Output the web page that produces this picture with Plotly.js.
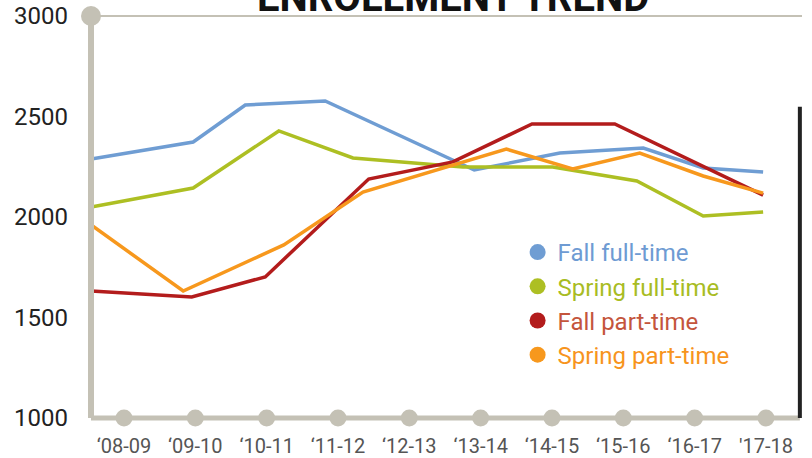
<!DOCTYPE html>
<html>
<head>
<meta charset="utf-8">
<script src="https://cdn.plot.ly/plotly-3.0.1.min.js"></script>
<style>html,body{margin:0;padding:0;background:#fff;}#chart{width:812px;height:458px;}</style>
</head>
<body>
<div id="chart"></div>
<script>
// Category labels (school years)
const categories = ['\u201808-09', '\u201809-10', '\u201810-11', '\u201811-12', '\u201812-13', '\u201813-14', '\u201814-15', '\u201815-16', '\u201816-17', "'17-18"];
const yTickValues = [1000, 1500, 2000, 2500, 3000];

// Series vertices (x in category-index units)
const fallFullX = [-0.46, 0.97, 1.70, 2.82, 4.91, 6.11, 7.28, 8.12, 8.96];
const fallFullY = [2289, 2373, 2557, 2577, 2234, 2318, 2343, 2244, 2224];

const springFullX = [-0.46, 0.97, 2.17, 3.21, 4.75, 6.01, 7.19, 8.12, 8.96];
const springFullY = [2050, 2144, 2428, 2294, 2249, 2249, 2179, 2005, 2025];

const fallPartX = [-0.46, 0.95, 1.98, 3.43, 4.61, 5.72, 6.88, 8.96];
const fallPartY = [1632, 1602, 1702, 2189, 2274, 2463, 2463, 2109];

const springPartX = [-0.46, 0.83, 2.24, 3.35, 5.36, 6.29, 7.23, 8.12, 8.96];
const springPartY = [1960, 1632, 1861, 2124, 2338, 2239, 2318, 2204, 2119];

const seriesNames = ['Fall full-time', 'Spring full-time', 'Fall part-time', 'Spring part-time'];
const lineColors = ['#6f9dd3', '#adbf23', '#b31c1c', '#f7981d'];
const textColors = ['#6e9bd3', '#a8bc23', '#c4553c', '#f7941d'];
const gray = '#c4c1b5';

const xs = [fallFullX, springFullX, fallPartX, springPartX];
const ys = [fallFullY, springFullY, fallPartY, springPartY];

const catIdx = categories.map((_, i) => i);

const traces = [];
// axis dots at each category
traces.push({
  x: catIdx, y: catIdx.map(() => yTickValues[0]),
  mode: 'markers', type: 'scatter',
  marker: {size: 17, color: gray},
  cliponaxis: false, showlegend: false, hoverinfo: 'skip'
});
for (let k = 0; k < 4; k++) {
  traces.push({
    x: xs[k], y: ys[k], type: 'scatter', mode: 'lines',
    line: {color: lineColors[k], width: 3.5},
    name: seriesNames[k], showlegend: false, cliponaxis: false
  });
}
for (let k = 0; k < 4; k++) {
  traces.push({
    x: [null], y: [null], type: 'scatter', mode: 'markers',
    marker: {color: lineColors[k], size: 16},
    name: '<span style="color:' + textColors[k] + '">' + seriesNames[k] + '</span>',
    legendgroup: 'g' + k, showlegend: true
  });
}

const layout = {
  width: 812, height: 458,
  margin: {l: 91, r: 10, t: 16, b: 40},
  paper_bgcolor: '#fff', plot_bgcolor: '#fff',
  font: {family: 'Roboto, sans-serif'},
  showlegend: true,
  legend: {
    x: 0.6, y: 0.4677, xanchor: 'left', yanchor: 'top',
    font: {family: 'Roboto', size: 24},
    bgcolor: 'rgba(0,0,0,0)', tracegroupgap: 7.5, traceorder: 'normal'
  },
  xaxis: {
    range: [-0.4626, 9.505],
    tickmode: 'array', tickvals: catIdx, ticktext: categories,
    showgrid: false, zeroline: false, showline: false, ticks: '',
    tickfont: {family: 'Roboto', size: 20, color: '#555'},
    ticklabelstandoff: 14, fixedrange: true
  },
  yaxis: {
    range: [1000, 3000],
    tickmode: 'array', tickvals: yTickValues,
    showgrid: false, zeroline: false, showline: false, ticks: '',
    tickfont: {family: 'Roboto', size: 24, color: '#222'},
    ticklabelstandoff: 22, fixedrange: true
  },
  annotations: [{
    text: '<b>ENROLLMENT TREND</b>', xref: 'paper', yref: 'paper',
    x: 0.509, y: 1.046, xanchor: 'center', yanchor: 'middle', showarrow: false,
    font: {family: 'Roboto', size: 40, color: '#111'}
  }],
  shapes: [
    {type: 'line', xref: 'paper', yref: 'paper', x0: 0, x1: 1, y0: 1, y1: 1, line: {color: gray, width: 2}, layer: 'below'},
    {type: 'line', xref: 'paper', yref: 'paper', x0: 0, x1: 0.997, y0: 0, y1: 0, line: {color: gray, width: 5}, layer: 'above'},
    {type: 'line', xref: 'paper', yref: 'paper', x0: 0, x1: 0, y0: 0, y1: 1, line: {color: gray, width: 6}, layer: 'above'},
    {type: 'circle', xref: 'paper', yref: 'paper', xsizemode: 'pixel', ysizemode: 'pixel',
     xanchor: 0, yanchor: 1, x0: -10, x1: 10, y0: -10, y1: 10,
     fillcolor: gray, line: {width: 0}, layer: 'above'},
    {type: 'line', xref: 'paper', yref: 'paper', x0: 0.997, x1: 0.997, y0: 0, y1: 0.774, line: {color: '#222', width: 4}, layer: 'above'}
  ]
};

Plotly.newPlot('chart', traces, layout, {displayModeBar: false, staticPlot: true});
</script>
</body>
</html>
